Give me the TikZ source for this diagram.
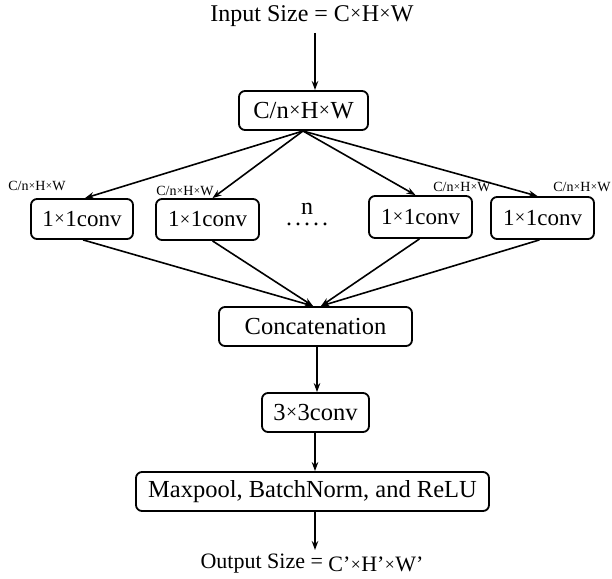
\documentclass[tikz,border=0pt]{standalone}
\usepackage{fontspec}
\usepackage{graphicx}
\setmainfont{Liberation Serif}
\usetikzlibrary{arrows.meta}
\newcommand{\smx}{\hspace{0.02em}\raisebox{0.07em}{\scalebox{0.8}{×}}\hspace{0.02em}}
\begin{document}
\begin{tikzpicture}[x=1pt,y=-1pt,
  box/.style={draw,line width=1.8pt,rounded corners=6pt,inner sep=0pt,font=\fontsize{24.5}{28}\selectfont},
  sbox/.style={box,font=\fontsize{23}{27}\selectfont},
  big/.style={inner sep=0pt,font=\fontsize{24}{28}\selectfont},
  small/.style={inner sep=0pt,font=\fontsize{14}{16}\selectfont},
  arr/.style={line width=1.6pt,-{Stealth[length=9pt,width=6.5pt]}}]
\useasboundingbox (0,0) rectangle (612,578);
\node[big] (in) at (312,16) {Input Size = C\smx H\smx W};
\node[box,minimum width=129pt,minimum height=39pt] (top) at (303.5,110.5) {C/n\smx H\smx W};
\node[sbox,minimum width=102pt,minimum height=40pt] (b1) at (82,219) {1\smx 1conv};
\node[sbox,minimum width=103pt,minimum height=41pt] (b2) at (207.5,219.5) {1\smx 1conv};
\node[sbox,minimum width=103pt,minimum height=42pt] (b4) at (420.5,217) {1\smx 1conv};
\node[sbox,minimum width=103pt,minimum height=42pt] (b5) at (542.5,218) {1\smx 1conv};
\node[small] (l1) at (37,186) {C/n\smx H\smx W};
\node[small] (l2) at (185,191) {C/n\smx H\smx W};
\node[small] (l4) at (462,187) {C/n\smx H\smx W};
\node[small] (l5) at (582,187) {C/n\smx H\smx W};
\node[inner sep=0pt,align=center,font=\fontsize{24}{11}\selectfont,anchor=base] (nd) at (307,225) {n\\.\hspace{3pt}.\hspace{3pt}.\hspace{3pt}.\hspace{3pt}.};
\node[box,minimum width=193pt,minimum height=39pt] (cat) at (315.5,326.5) {Concatenation};
\node[box,minimum width=107pt,minimum height=39pt] (c3) at (315.5,412.5) {3\smx 3conv};
\node[box,minimum width=353pt,minimum height=39pt] (mp) at (312.5,491.5) {Maxpool, BatchNorm, and ReLU};
\node[inner sep=0pt,font=\fontsize{22}{26}\selectfont] (out) at (312,564) {Output Size = \raisebox{-3pt}{C’\smx H’\smx W’}};
\coordinate (fan) at (303,131);
\coordinate (ia) at (315,33);
\coordinate (ib) at (315,90);
\draw[arr] (ia) -- (ib);
\draw[arr] (fan) -- ([xshift=3pt]b1.north);
\draw[arr] (fan) -- ([xshift=5pt]b2.north);
\draw[arr] (fan) -- ([xshift=-5pt]b4.north);
\draw[arr] (fan) -- ([xshift=-5pt]b5.north);
\coordinate (m1) at (313,306);
\coordinate (m2) at (321,306);
\draw[arr] ([xshift=1pt]b1.south) -- (m1);
\draw[arr] ([xshift=5pt]b2.south) -- (m1);
\draw[arr] ([xshift=-1pt]b4.south) -- (m2);
\draw[arr] ([xshift=-3pt]b5.south) -- (m2);
\coordinate (oa) at (315,550);
\draw[arr] (cat.south -| 317,0) -- (c3.north -| 317,0);
\draw[arr] (c3.south -| 315,0) -- (mp.north -| 315,0);
\draw[arr] (mp.south -| 315,0) -- (oa);
\end{tikzpicture}
\end{document}
